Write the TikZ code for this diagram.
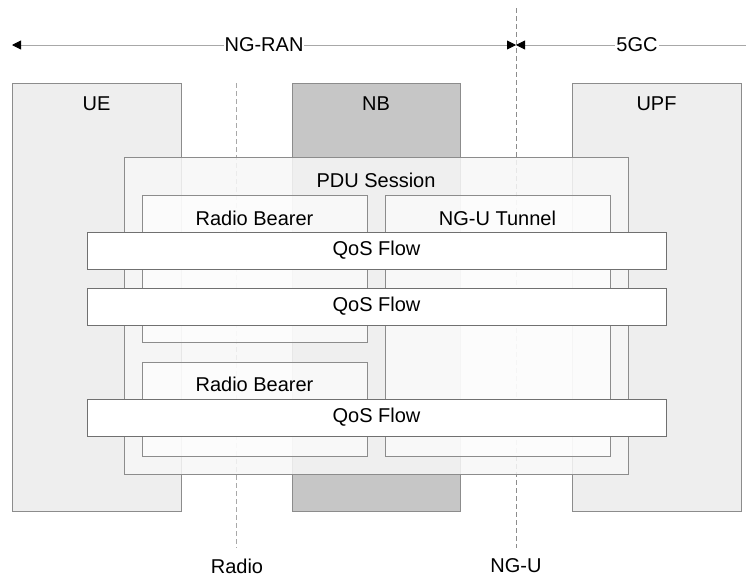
\documentclass[tikz,border=0pt]{standalone}
\usepackage{fontspec}
\setmainfont{Liberation Sans}
\usetikzlibrary{arrows.meta}

\definecolor{boxgray}{HTML}{8C8C8C}
\definecolor{flowgray}{HTML}{707070}
\definecolor{linegray}{HTML}{A8A8A8}
\definecolor{uefill}{HTML}{EEEEEE}
\definecolor{nbfill}{HTML}{C6C6C6}
\definecolor{pdufill}{HTML}{F7F7F7}

\begin{document}
\begin{tikzpicture}[
  x=1pt, y=-1pt,
  line cap=butt,
  line join=miter,
  >={Triangle[length=9pt, width=9pt, color=black]},
  every node/.style={font=\fontsize{20}{24}\selectfont, inner sep=0pt},
  entity/.style={draw=boxgray, line width=0.9pt, minimum width=169pt, minimum height=428pt},
  bearer/.style={draw=boxgray, line width=0.9pt, fill=white, fill opacity=0.6, minimum width=225pt},
  qosbox/.style={draw=flowgray, line width=1pt, fill=white, minimum width=579pt, minimum height=37pt},
  refline/.style={draw=#1, line width=0.9pt, dash pattern=on 5pt off 3pt},
  span/.style={draw=linegray, line width=0.9pt}
]

% page size: 746 x 579
\useasboundingbox (0,0) rectangle (746,579);

% --- network entities ---
\node[entity, fill=uefill] (ue) at (96.5,297) {};
\node[entity, fill=nbfill, minimum width=168pt] (nb) at (376,297) {};
\node[entity, fill=uefill] (upf) at (656.5,297) {};

\node (ue-lbl) at (96.5,104) {UE};
\node (nb-lbl) at (376,104) {NB};
\node (upf-lbl) at (656.5,104) {UPF};

% --- reference points (dashed) ---
\coordinate (radio-top) at (236,83);
\coordinate (radio-bot) at (236,548);
\coordinate (ngu-top) at (516,8);
\coordinate (ngu-bot) at (516,548);
\draw[refline=linegray] (radio-top) -- (radio-bot);
\draw[refline=boxgray] (ngu-top) -- (ngu-bot);

\node (radio-lbl) at (237,566) {Radio};
\node (ngu-lbl) at (516,566) {NG-U};

% --- domain spans on top ---
\coordinate (ran-w) at (12,45);
\coordinate (ran-e) at (516,45);
\coordinate (cn-e) at (746,45);
\draw[span, <->] (ran-w) -- (ran-e);
\draw[span, <-] (ran-e) -- (cn-e);

\node[fill=white, inner xsep=1pt] (ran-lbl) at (264,45) {NG-RAN};
\node[fill=white, inner xsep=1pt] (cn-lbl) at (637,45) {5GC};

% --- PDU session ---
\node[draw=boxgray, line width=0.9pt, fill=pdufill, fill opacity=0.85,
      minimum width=504pt, minimum height=317pt] (pdu) at (376,315.5) {};
\node (pdu-lbl) at (376,180) {PDU Session};

% --- bearers and tunnel ---
\node[bearer, minimum height=147pt] (rb1) at (254.5,268.5) {};
\node[bearer, minimum height=261pt] (tunnel) at (497.5,325.5) {};
\node[bearer, minimum height=94pt] (rb2) at (254.5,409) {};

\node (rb1-lbl) at (254.5,218) {Radio Bearer};
\node (tunnel-lbl) at (497.5,218) {NG-U Tunnel};
\node (rb2-lbl) at (254.5,384) {Radio Bearer};

% --- QoS flows ---
\node[qosbox] (qos1) at (376.5,250.5) {QoS Flow};
\node[qosbox] (qos2) at (376.5,306.5) {QoS Flow};
\node[qosbox] (qos3) at (376.5,417.5) {QoS Flow};

\end{tikzpicture}
\end{document}
